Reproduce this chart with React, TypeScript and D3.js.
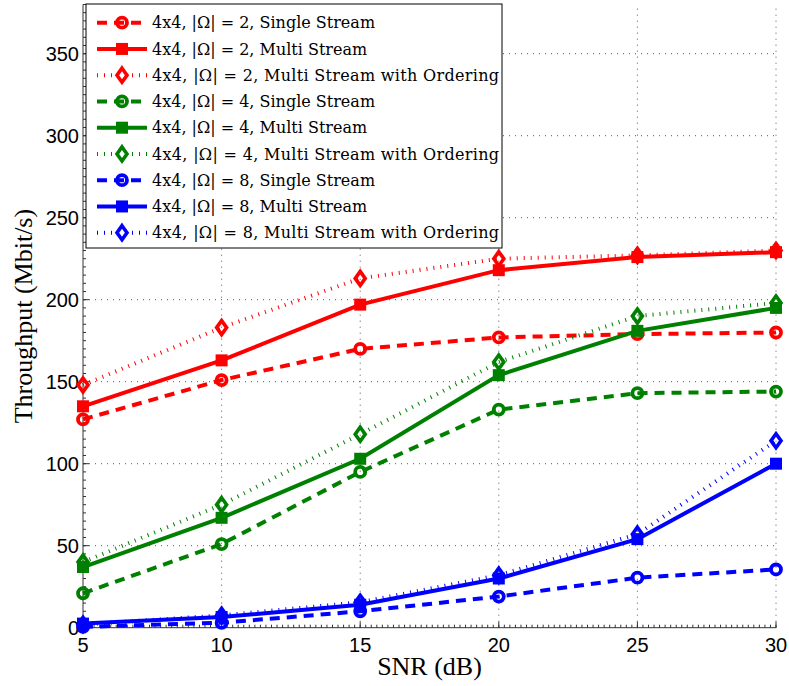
import React from 'react';
import * as d3 from 'd3';

const width = 789;
const height = 686;

// SNR points (dB)
const snr = [5, 10, 15, 20, 25, 30];

// throughput values (Mbit/s)
const redSingle = [127, 151, 170, 177, 179, 180];
const redMulti = [135, 163, 197, 218, 226, 229];
const redOrder = [148, 183, 213, 225, 227, 230];
const greenSingle = [21, 51, 95, 133, 143, 144];
const greenMulti = [37, 67, 103, 154, 181, 195];
const greenOrder = [40, 75, 118, 162, 190, 198];
const blueSingle = [0.5, 3, 10, 19, 30.5, 35.5];
const blueMulti = [2.5, 6.5, 14, 30, 54, 100];
const blueOrder = [2, 7.5, 15.5, 32, 57, 114];

const labels = [
  '4x4, |Ω| = 2, Single Stream',
  '4x4, |Ω| = 2, Multi Stream',
  '4x4, |Ω| = 2, Multi Stream with Ordering',
  '4x4, |Ω| = 4, Single Stream',
  '4x4, |Ω| = 4, Multi Stream',
  '4x4, |Ω| = 4, Multi Stream with Ordering',
  '4x4, |Ω| = 8, Single Stream',
  '4x4, |Ω| = 8, Multi Stream',
  '4x4, |Ω| = 8, Multi Stream with Ordering',
];

const series = [
  { values: redSingle, color: '#ff0000', kind: 'single' },
  { values: redMulti, color: '#ff0000', kind: 'multi' },
  { values: redOrder, color: '#ff0000', kind: 'order' },
  { values: greenSingle, color: '#008000', kind: 'single' },
  { values: greenMulti, color: '#008000', kind: 'multi' },
  { values: greenOrder, color: '#008000', kind: 'order' },
  { values: blueSingle, color: '#0000ff', kind: 'single' },
  { values: blueMulti, color: '#0000ff', kind: 'multi' },
  { values: blueOrder, color: '#0000ff', kind: 'order' },
].map((s, i) => ({ ...s, label: labels[i] }));

const dashFor = (kind: string) =>
  kind === 'single' ? '10 7' : kind === 'order' ? '1 6' : undefined;

const x = d3.scaleLinear().domain([5, 30]).range([83, 776]);
const y = d3.scaleLinear().domain([0, 380]).range([627.7, 4.5]);

function Marker({ kind, cx, cy, color }: { kind: string; cx: number; cy: number; color: string }) {
  if (kind === 'single') {
    return <circle cx={cx} cy={cy} r={5} fill="none" stroke={color} strokeWidth={3.8} />;
  }
  if (kind === 'multi') {
    return <rect x={cx - 4.5} y={cy - 4.5} width={9} height={9} fill={color} stroke={color} strokeWidth={3} />;
  }
  const d = `M${cx},${cy - 7}L${cx + 5},${cy}L${cx},${cy + 7}L${cx - 5},${cy}Z`;
  return <path d={d} fill="none" stroke={color} strokeWidth={3.6} strokeLinejoin="miter" />;
}

export default function App() {
  const line = d3
    .line<number>()
    .x((_, i) => x(snr[i]))
    .y((d) => y(d));

  const xTicks = x.ticks(5);
  const yTicks = y.ticks(8);
  const xMinor = x.ticks(100);
  const yMinor = y.ticks(76);

  const [x0, x1] = x.range();
  const [y0, y1] = y.range();

  const legendX = 86;
  const legendY = 4;
  const rowH = 26.25;

  return (
    <svg
      width={width}
      height={height}
      style={{ position: 'absolute', left: 0, top: 0, background: '#fff' }}
    >
      {/* grid */}
      {yTicks.filter((t) => t > 0).map((t) => (
        <line key={'gy' + t} x1={x0} x2={x1} y1={y(t)} y2={y(t)} stroke="#555" strokeWidth={1} strokeDasharray="1 5" />
      ))}
      {xTicks.filter((t) => t > 5).map((t) => (
        <line key={'gx' + t} x1={x(t)} x2={x(t)} y1={y0} y2={y1} stroke="#555" strokeWidth={1} strokeDasharray="1 5" />
      ))}

      {/* axes */}
      <line x1={x0} x2={x1} y1={y0} y2={y0} stroke="#333" strokeWidth={1} />
      <line x1={x0} x2={x0} y1={y0} y2={y1} stroke="#333" strokeWidth={1} />
      {xMinor.map((t) => (
        <line key={'mx' + t} x1={x(t)} x2={x(t)} y1={y0} y2={y0 - 3} stroke="#333" strokeWidth={1} />
      ))}
      {yMinor.map((t) => (
        <line key={'my' + t} x1={x0} x2={x0 + 3} y1={y(t)} y2={y(t)} stroke="#333" strokeWidth={1} />
      ))}
      {xTicks.map((t) => (
        <g key={'tx' + t}>
          <line x1={x(t)} x2={x(t)} y1={y0} y2={y0 - 6} stroke="#333" strokeWidth={1} />
          <text x={x(t)} y={652} textAnchor="middle" fontFamily="Liberation Sans, Arial, sans-serif" fontSize={20}>
            {t}
          </text>
        </g>
      ))}
      {yTicks.map((t) => (
        <g key={'ty' + t}>
          <line x1={x0} x2={x0 + 6} y1={y(t)} y2={y(t)} stroke="#333" strokeWidth={1} />
          <text x={79} y={y(t)} dy="0.36em" textAnchor="end" fontFamily="Liberation Sans, Arial, sans-serif" fontSize={20}>
            {t}
          </text>
        </g>
      ))}

      {/* labels */}
      <text x={(x0 + x1) / 2} y={675} textAnchor="middle" fontFamily="Liberation Serif, Times New Roman, serif" fontSize={26}>
        SNR (dB)
      </text>
      <text
        transform={`translate(32, ${(y0 + y1) / 2}) rotate(-90)`}
        textAnchor="middle"
        fontFamily="Liberation Serif, Times New Roman, serif"
        fontSize={26}
      >
        Throughput (Mbit/s)
      </text>

      {/* data */}
      {series.map((s, i) => (
        <g key={'s' + i}>
          <path d={line(s.values) || ''} fill="none" stroke={s.color} strokeWidth={4} strokeDasharray={dashFor(s.kind)} />
          {s.values.map((v, j) => (
            <Marker key={j} kind={s.kind} cx={x(snr[j])} cy={y(v)} color={s.color} />
          ))}
        </g>
      ))}

      {/* legend */}
      <rect x={legendX} y={legendY} width={416} height={244} fill="#fff" stroke="#000" strokeWidth={1} />
      {series.map((s, i) => {
        const cy = legendY + 18.7 + i * rowH;
        return (
          <g key={'l' + i}>
            <line x1={97} x2={147} y1={cy} y2={cy} stroke={s.color} strokeWidth={4} strokeDasharray={dashFor(s.kind)} />
            <Marker kind={s.kind} cx={122} cy={cy} color={s.color} />
            <text x={152} y={cy} dy="0.36em" fontFamily="DejaVu Serif, serif" fontSize={16} textLength={s.kind === 'order' ? 347 : undefined}>
              {s.label}
            </text>
          </g>
        );
      })}
    </svg>
  );
}
